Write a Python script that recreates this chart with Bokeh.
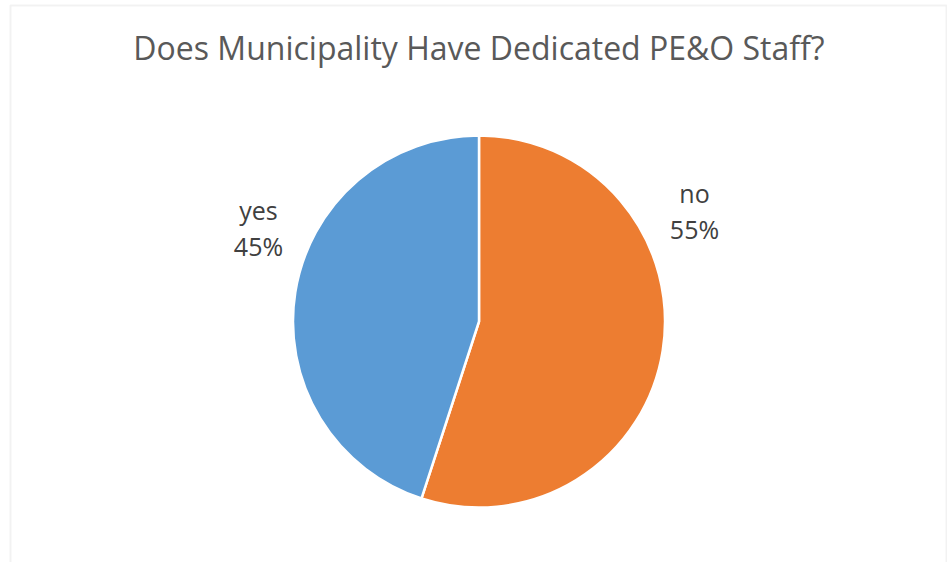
import math
from bokeh.plotting import figure
from bokeh.models import Range1d, ColumnDataSource, BoxAnnotation, Label
from bokeh.embed import file_html
from bokeh.resources import INLINE

categories = ["no", "yes"]
shares = [55, 45]
colors = ["#ED7D31", "#5B9BD5"]

W, H = 947, 562
p = figure(width=W, height=H, output_backend="svg", toolbar_location=None,
           x_range=Range1d(0, W), y_range=Range1d(0, H),
           min_border=0, border_fill_color="white", background_fill_color="white")
p.axis.visible = False
p.grid.visible = False
p.outline_line_color = None

# chart border
p.add_layout(BoxAnnotation(left=10, right=946, top=H - 5, bottom=-20,
                           fill_color=None, line_color="#D4D4D4", line_width=2))

cx, cy, r = 478.5, H - 321, 186
total = sum(shares)
starts, ends = [], []
a = math.pi / 2
for s in shares:
    sweep = 2 * math.pi * s / total
    ends.append(a)
    starts.append(a - sweep)
    a -= sweep

src = ColumnDataSource(dict(cat=categories, start=starts, end=ends, color=colors))
p.wedge(x=cx, y=cy, radius=r, start_angle="start", end_angle="end",
        fill_color="color", line_color="white", line_width=2.5, source=src)

font = "Open Sans"
p.add_layout(Label(x=478.5, y=H - 47, text="Does Municipality Have Dedicated PE&O Staff?",
                   text_align="center", text_baseline="middle", text_font=font,
                   text_font_size="32px", text_color="#595959"))

label_pos = {"no": (694, 192), "yes": (258, 209)}
for cat, s in zip(categories, shares):
    lx, ly = label_pos[cat]
    p.add_layout(Label(x=lx, y=H - ly, text=cat, text_align="center", text_baseline="middle",
                       text_font=font, text_font_size="25px", text_color="#404040"))
    p.add_layout(Label(x=lx, y=H - ly - 36, text=f"{s}%", text_align="center", text_baseline="middle",
                       text_font=font, text_font_size="25px", text_color="#404040"))

open("out.html", "w").write(file_html(p, INLINE))
